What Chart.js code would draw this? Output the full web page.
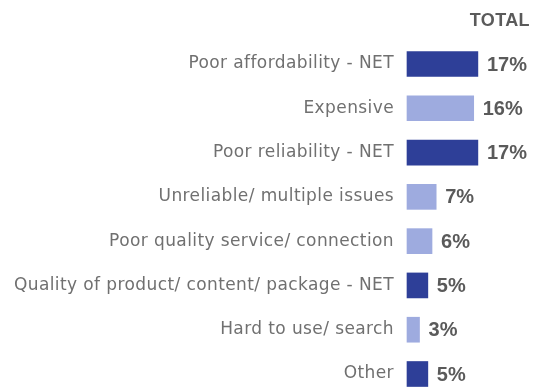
<!DOCTYPE html>
<html>
<head>
<meta charset="utf-8">
<script src="https://cdn.jsdelivr.net/npm/chart.js@4.4.1/dist/chart.umd.min.js"></script>
<style>
  html, body { margin: 0; padding: 0; background: #ffffff; }
  #wrap { width: 533px; height: 387px; position: relative; }
</style>
</head>
<body>
<div id="wrap"><canvas id="chart"></canvas></div>
<script>
// Reasons, share of respondents (%)
const categories = [
  'Poor affordability - NET',
  'Expensive',
  'Poor reliability - NET',
  'Unreliable/ multiple issues',
  'Poor quality service/ connection',
  'Quality of product/ content/ package - NET',
  'Hard to use/ search',
  'Other'
];
const totalValues = [17, 16, 17, 7, 6, 5, 3, 5];
const seriesName = 'TOTAL';

const DARK = '#2e3f98';
const LIGHT = '#9eabdf';
const TEXT = '#707070';
const VALUE_TEXT = '#5a5a5a';

// Net groups and the catch-all row are drawn in the darker shade
const barColors = categories.map(c => (/NET$/.test(c) || c === 'Other') ? DARK : LIGHT);

// Slightly open tracking for the axis text
const tracking = {
  id: 'tracking',
  beforeDraw(chart) { chart.ctx.letterSpacing = '0.4px'; },
  afterDraw(chart) { chart.ctx.letterSpacing = '0px'; }
};

const valueLabels = {
  id: 'valueLabels',
  afterDatasetsDraw(chart) {
    const ctx = chart.ctx;
    const meta = chart.getDatasetMeta(0);
    const data = chart.data.datasets[0].data;
    ctx.save();
    ctx.letterSpacing = '0px';
    ctx.font = 'bold 20px "Liberation Sans", Arial, sans-serif';
    ctx.fillStyle = VALUE_TEXT;
    ctx.textAlign = 'left';
    ctx.textBaseline = 'middle';
    meta.data.forEach((bar, i) => {
      ctx.fillText(data[i] + '%', bar.x + 9, bar.y + 1);
    });
    ctx.restore();
  }
};

new Chart(document.getElementById('chart'), {
  type: 'bar',
  data: {
    labels: categories,
    datasets: [{
      label: seriesName,
      data: totalValues,
      backgroundColor: barColors,
      barThickness: 25,
      clip: false
    }]
  },
  options: {
    indexAxis: 'y',
    responsive: true,
    maintainAspectRatio: false,
    animation: false,
    layout: { padding: { left: 0, right: 3, top: 0, bottom: 13 } },
    plugins: {
      legend: { display: false },
      tooltip: { enabled: false },
      title: {
        display: true,
        text: seriesName,
        align: 'end',
        color: VALUE_TEXT,
        font: { family: '"Liberation Sans", Arial, sans-serif', size: 18, weight: 'bold', lineHeight: 1.2 },
        padding: { top: 10, bottom: 32.4 }
      }
    },
    scales: {
      x: {
        display: false,
        min: 0,
        max: 29.5
      },
      y: {
        offset: false,
        grid: { display: false, drawTicks: false },
        border: { display: false },
        ticks: {
          color: TEXT,
          padding: 13,
          font: { family: '"DejaVu Sans", sans-serif', size: 17 }
        },
        afterFit(scale) {
          scale.width = 407;
          // end labels sit inside the plot margins, no extra room needed
          scale.paddingTop = 0;
          scale.paddingBottom = 0;
        }
      }
    }
  },
  plugins: [tracking, valueLabels]
});
</script>
</body>
</html>
